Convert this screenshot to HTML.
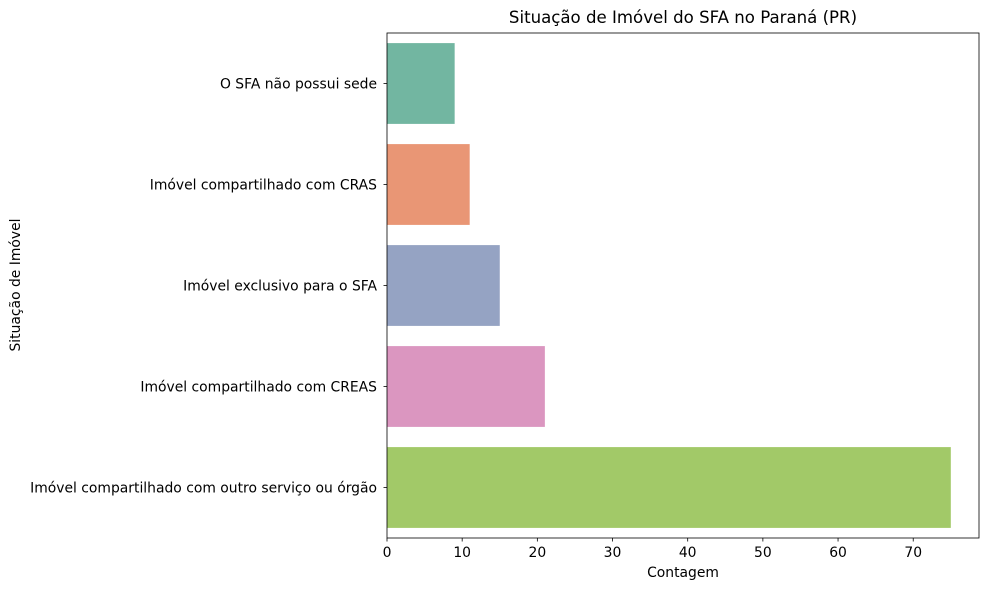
<!DOCTYPE html>
<html><head><meta charset="utf-8"><style>
body{margin:0;background:#fff;}
svg{display:block;font-family:"DejaVu Sans","Liberation Sans",sans-serif;}
</style></head><body>
<svg id="chart" width="989" height="590">
<text x="683" y="23" font-size="16.6" text-anchor="middle">Situação de Imóvel do SFA no Paraná (PR)</text>
<g id="bars"></g>
<g id="xticks"></g>
<g id="yticks"></g>
<rect x="387" y="33" width="592" height="505" fill="none" stroke="#000" stroke-width="0.8"/>
<text x="683" y="577" font-size="13.9" text-anchor="middle">Contagem</text>
<text transform="translate(20,285) rotate(-90)" font-size="13.9" text-anchor="middle">Situação de Imóvel</text>
</svg>
<script>
const categories=["O SFA não possui sede","Imóvel compartilhado com CRAS","Imóvel exclusivo para o SFA","Imóvel compartilhado com CREAS","Imóvel compartilhado com outro serviço ou órgão"];
const counts=[9,11,15,21,75];
const colors=["#72b6a1","#e99675","#95a3c3","#db96c0","#a2c968"];
const xTicks=[0,10,20,30,40,50,60,70];
const L=387,R=979,T=33,B=538;
const xMax=Math.max(...counts)*1.05;
const x=v=>L+v/xMax*(R-L);
const band=(B-T)/categories.length;
const yc=i=>T+band*(i+0.5);
const NS="http://www.w3.org/2000/svg";
const mk=(t,a,p)=>{const e=document.createElementNS(NS,t);for(const k in a)e.setAttribute(k,a[k]);p.appendChild(e);return e;};
const gb=document.getElementById('bars'),gx=document.getElementById('xticks'),gy=document.getElementById('yticks');
counts.forEach((v,i)=>{
 const r=mk('rect',{x:x(0),y:yc(i)-band*0.4,width:x(v)-x(0),height:band*0.8,fill:colors[i]},gb);
 
 
 const tk=mk('line',{x1:L-3.5,x2:L,y1:yc(i),y2:yc(i),stroke:'#000','stroke-width':0.8},gy);
 
 
 const t=mk('text',{x:L-10,y:yc(i)+5,'font-size':13.9,'text-anchor':'end'},gy);
 t.textContent=categories[i];
 
 
});
xTicks.forEach(v=>{
 const tk=mk('line',{x1:x(v),x2:x(v),y1:B,y2:B+3.5,stroke:'#000','stroke-width':0.8},gx);
 
 
 const t=mk('text',{x:x(v),y:B+19,'font-size':13.9,'text-anchor':'middle'},gx);
 t.textContent=v;
 
 
});
</script>
</body></html>
